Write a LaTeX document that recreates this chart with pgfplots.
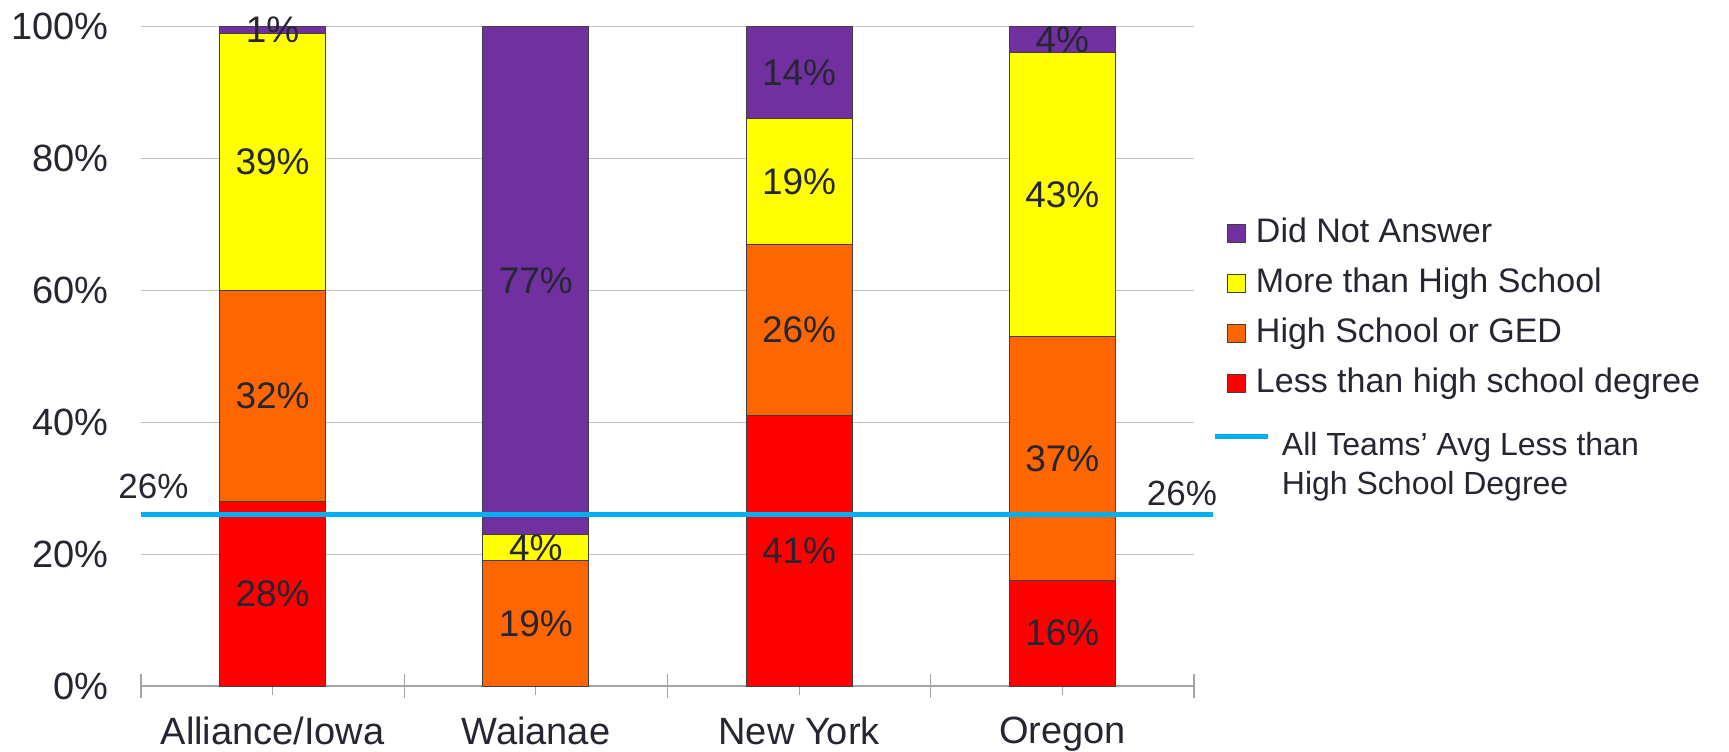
\documentclass[border=0pt]{standalone}
\usepackage{pgfplots}
\pgfplotsset{compat=1.18}
\usepackage{pgfplotstable}
\usepackage{fontspec}
\setmainfont{Liberation Sans}
\usetikzlibrary{calc}

\definecolor{cPurple}{HTML}{7030A0}
\definecolor{cYellow}{HTML}{FFFF00}
\definecolor{cOrange}{HTML}{FF6600}
\definecolor{cRed}{HTML}{FF0000}
\definecolor{cBlue}{HTML}{00B0F0}
\definecolor{textc}{RGB}{38,38,50}
\definecolor{gridc}{RGB}{192,192,192}
\definecolor{axisc}{RGB}{165,165,165}
\definecolor{edgec}{RGB}{64,64,64}

% share of respondents by education level, per team (percent)
\pgfplotstableread{
x less hs more dna
0 28 32 39 1
1 0  19 4  77
2 41 26 19 14
3 16 37 43 4
}\edu

\pgfplotsset{
  frame/.style={scale only axis, width=526.5pt, height=329.75pt,
    xmin=-0.5, xmax=3.5, ymin=0, ymax=100, enlargelimits=false, clip=false},
  seg/.style={fill=#1, draw=edgec, line width=0.5pt,
    legend image code/.code={\draw[##1] (0pt,0pt) rectangle (9pt,9pt);}},
  avgline/.style={cBlue, line width=2.5pt, mark=none,
    legend image code/.code={\draw[##1] (0pt,9.5pt) -- (26.5pt,9.5pt);}},
}

\begin{document}
\begin{tikzpicture}
% stacked bars
\begin{axis}[frame, name=ax,
  ybar stacked, bar width=53pt,
  axis x line*=bottom, axis y line*=left,
  y axis line style={draw=none},
  x axis line style={axisc, line width=0.6pt},
  xtick={0,1,2,3},
  xticklabels={Alliance/Iowa,Waianae,New York,Oregon},
  minor xtick={-0.5,0.5,1.5,2.5,3.5},
  tick align=center,
  major tick length=9pt, minor tick length=12pt,
  xtick style={axisc, line width=0.6pt},
  ytick={0,20,40,60,80,100},
  ytick style={draw=none},
  yticklabel={\pgfmathprintnumber{\tick}\%},
  ymajorgrids, grid style={gridc, line width=0.6pt},
  /pgf/number format/assume math mode=true,
  ticklabel style={text=textc, font=\fontsize{19}{22}\selectfont, inner sep=0pt},
  yticklabel style={xshift=-11.5pt},
  xticklabel style={yshift=-11pt},
  reverse legend,
  legend style={at={(1.0313,0.7116)}, anchor=north west, draw=none, fill=none,
    inner sep=0pt, outer sep=0pt, row sep=8pt, column sep=5pt,
    font=\fontsize{17}{20}\selectfont, text=textc,
    cells={anchor=base west},
    nodes={inner sep=0pt, text height=13pt, text depth=4pt}},
]
\addplot[seg=cRed]    table[x=x, y=less] {\edu};
\addlegendentry{Less than high school degree}
\addplot[seg=cOrange] table[x=x, y=hs]   {\edu};
\addlegendentry{High School or GED}
\addplot[seg=cYellow] table[x=x, y=more] {\edu};
\addlegendentry{More than High School}
\addplot[seg=cPurple] table[x=x, y=dna]  {\edu};
\addlegendentry{Did Not Answer}
\end{axis}

% segment labels: stacked nodes near coords sit in the middle of each segment
\begin{axis}[frame, hide axis,
  ybar stacked, bar width=53pt,
  point meta=explicit,
  /pgf/number format/assume math mode=true,
  nodes near coords={\pgfmathfloatifflags{\pgfplotspointmeta}{0}{}{\pgfmathprintnumber{\pgfplotspointmeta}\%}},
  every node near coord/.append style={anchor=center,
    text=textc, font=\fontsize{18.5}{21}\selectfont, inner sep=0pt},
]
\addplot[draw=none, fill=none] table[x=x, y=less, meta=less] {\edu};
\addplot[draw=none, fill=none] table[x=x, y=hs,   meta=hs]   {\edu};
\addplot[draw=none, fill=none] table[x=x, y=more, meta=more] {\edu};
\addplot[draw=none, fill=none] table[x=x, y=dna,  meta=dna]  {\edu};
\end{axis}

% all-teams average line
\begin{axis}[frame, hide axis,
  legend style={at={(1.0180,0.3851)}, anchor=north west, draw=none, fill=none,
    inner sep=0pt, outer sep=0pt, row sep=4.5pt, column sep=5.5pt,
    font=\fontsize{16}{19}\selectfont, text=textc,
    cells={anchor=base west},
    nodes={inner sep=0pt, text height=11.5pt, text depth=3.5pt}},
]
\addplot[avgline] coordinates {(-0.5,26) (3.572,26)};
\addlegendentry{All Teams’ Avg Less than}
\addlegendimage{empty legend}
\addlegendentry{High School Degree}
\addplot[draw=none, forget plot, nodes near coords, point meta=explicit symbolic,
  every node near coord/.append style={anchor=center, yshift=14.25pt, text=textc,
    font=\fontsize{17.5}{20}\selectfont, inner sep=0pt}]
  coordinates {(-0.4525,26) [26\%]};
\addplot[draw=none, forget plot, nodes near coords, point meta=explicit symbolic,
  every node near coord/.append style={anchor=center, yshift=10.75pt, text=textc,
    font=\fontsize{17.5}{20}\selectfont, inner sep=0pt}]
  coordinates {(3.454,26) [26\%]};
\end{axis}

\pgfresetboundingbox
\path ($(ax.south west)+(-70.5pt,-32.5pt)$) rectangle ($(ax.north east)+(267.5pt,13.25pt)$);
\end{tikzpicture}
\end{document}
